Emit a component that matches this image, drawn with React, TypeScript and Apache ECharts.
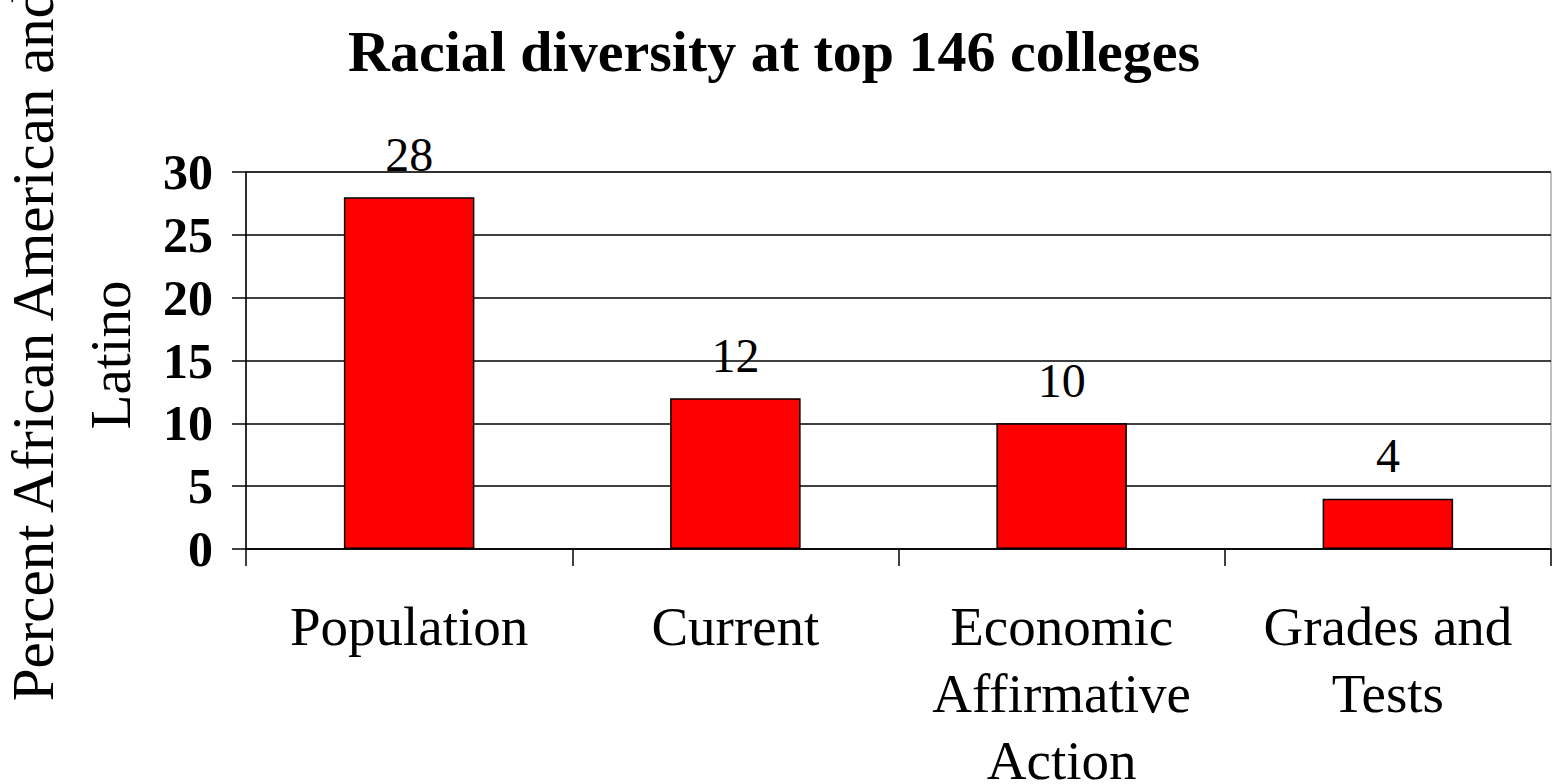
import React, { useEffect, useRef } from "react";
import * as echarts from "echarts";

const categories = ["Population", "Current", "Economic\nAffirmative\nAction", "Grades and\nTests"];
const values = [28, 12, 10, 4];
const yTicks = { min: 0, max: 30, interval: 5 };
const titleText = "Racial diversity at top 146 colleges";
const yTitleLine1 = "Percent African American and";
const yTitleLine2 = "Latino";

const FONT = "'Liberation Serif', 'Times New Roman', serif";

export default function App() {
  const ref = useRef<HTMLDivElement>(null);
  useEffect(() => {
    if (!ref.current) return;
    const chart = echarts.init(ref.current, undefined, { renderer: "svg" });
    chart.setOption({
      animation: false,
      backgroundColor: "#ffffff",
      title: {
        text: titleText,
        left: 343,
        top: 17,
        textStyle: { fontFamily: FONT, fontSize: 58, fontWeight: "bold", color: "#000" },
      },
      graphic: [
        {
          type: "text",
          x: 33,
          y: 345,
          rotation: Math.PI / 2,
          style: {
            text: yTitleLine1,
            fontFamily: FONT,
            fontSize: 59,
            fill: "#000",
            align: "center",
            verticalAlign: "middle",
          },
        },
        {
          type: "text",
          x: 110,
          y: 355,
          rotation: Math.PI / 2,
          style: {
            text: yTitleLine2,
            fontFamily: FONT,
            fontSize: 57,
            fill: "#000",
            align: "center",
            verticalAlign: "middle",
          },
        },
      ],
      grid: {
        left: 246,
        right: 1,
        top: 172,
        height: 377,
        show: true,
        borderColor: "#808080",
        borderWidth: 1,
        containLabel: false,
        outerBoundsMode: "none",
      },
      xAxis: {
        type: "category",
        data: categories,
        axisLine: { show: true, lineStyle: { color: "#000", width: 1.5 } },
        axisTick: { show: true, length: 17, alignWithLabel: false, lineStyle: { color: "#000", width: 1.5 } },
        axisLabel: {
          fontFamily: FONT,
          fontSize: 55,
          lineHeight: 67,
          color: "#000",
          margin: 44,
          interval: 0,
        },
        splitLine: { show: false },
      },
      yAxis: {
        type: "value",
        min: yTicks.min,
        max: yTicks.max,
        interval: yTicks.interval,
        axisLine: { show: true, lineStyle: { color: "#000", width: 1.5 } },
        axisTick: { show: true, inside: false, length: 14, lineStyle: { color: "#000", width: 1.5 } },
        axisLabel: {
          fontFamily: FONT,
          fontSize: 50,
          fontWeight: "bold",
          color: "#000",
          margin: 33,
        },
        splitLine: { show: true, lineStyle: { color: "#000", width: 1.5 } },
      },
      series: [
        {
          type: "bar",
          data: values,
          barWidth: "40%",
          itemStyle: { color: "#ff0000", borderColor: "#000", borderWidth: 1.5 },
          label: {
            show: true,
            position: "top",
            distance: 19,
            fontFamily: FONT,
            fontSize: 48,
            color: "#000",
          },
        },
      ],
    });
    return () => chart.dispose();
  }, []);
  return (
    <div
      ref={ref}
      style={{ position: "fixed", left: 0, top: 0, width: 1552, height: 784, background: "#fff" }}
    />
  );
}
